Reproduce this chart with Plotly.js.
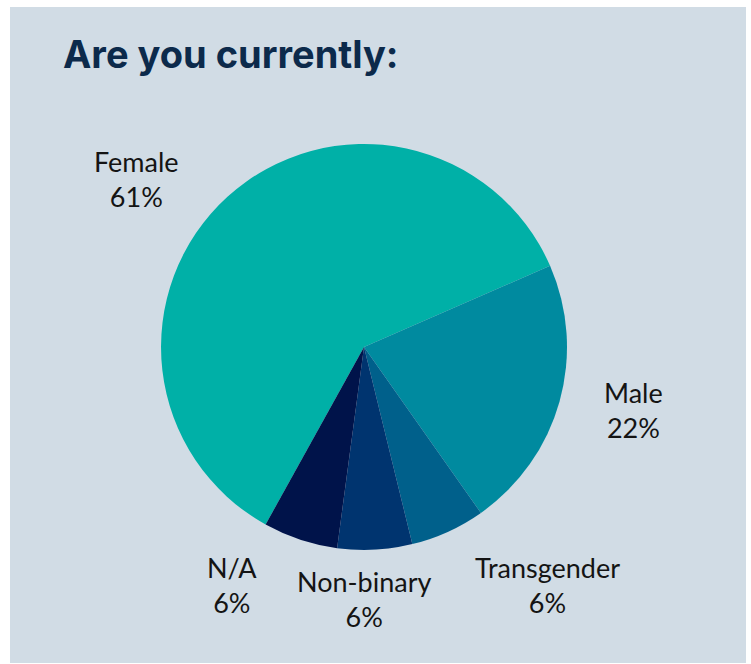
<!DOCTYPE html>
<html>
<head>
<meta charset="utf-8">
<script src="https://cdn.plot.ly/plotly-3.0.1.min.js"></script>
<style>
  html, body { margin: 0; padding: 0; background: #ffffff; }
  #chart { position: absolute; left: 10px; top: 7px; width: 736px; height: 656px; }
</style>
</head>
<body>
<div id="chart"></div>
<script>
// data (percent of respondents)
const categories = ['Female', 'Male', 'Transgender', 'Non-binary', 'N/A'];
const shares = [61, 22, 6, 6, 6];
const sliceColors = ['#00b0a7', '#008a9f', '#00608b', '#00346f', '#00134a'];

// centre of each label block, pixels inside the chart box
const labelSpots = [[126, 172], [623, 403], [537, 578], [354, 592], [222, 578]];
const W = 736, H = 656;
const labelFont = { family: 'Lato, Arial, sans-serif', size: 27, color: '#141414' };

const trace = {
    type: 'pie',
    labels: categories,
    values: shares,
    sort: false,
    direction: 'clockwise',
    rotation: -151,
    marker: { colors: sliceColors, line: { width: 0 } },
    textinfo: 'none',
    hoverinfo: 'label+percent',
    showlegend: false,
    domain: { x: [0.2052, 0.7568], y: [0.1723, 0.7912] }
};

// labels placed by hand like the original slide, no leader lines
const annotations = categories.map((cat, i) => ({
    text: cat + '<br>' + shares[i] + '%',
    x: labelSpots[i][0] / W,
    y: 1 - labelSpots[i][1] / H,
    xref: 'paper', yref: 'paper',
    xanchor: 'center', yanchor: 'middle',
    align: 'center',
    showarrow: false,
    font: labelFont
}));

const layout = {
    width: W,
    height: H,
    margin: { l: 0, r: 0, t: 0, b: 0 },
    paper_bgcolor: '#d1dce5',
    plot_bgcolor: '#d1dce5',
    title: {
        text: '<b>Are you currently:</b>',
        font: { family: 'Inter, Lato, sans-serif', size: 38, color: '#0c2a4b' },
        x: 0.072,
        xanchor: 'left',
        xref: 'container',
        y: 0.948,
        yanchor: 'top',
        yref: 'container'
    },
    annotations: annotations
};

Plotly.newPlot('chart', [trace], layout, { displayModeBar: false, staticPlot: true });
</script>
</body>
</html>
